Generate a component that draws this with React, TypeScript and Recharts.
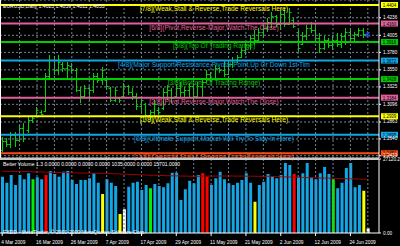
import React from 'react';
import {
  Bar,
  Cell,
  CartesianGrid,
  ComposedChart,
  Line,
  ReferenceDot,
  ReferenceLine,
  XAxis,
  YAxis,
} from 'recharts';

const dates = [
  '4 Mar 2009', '5 Mar 2009', '6 Mar 2009', '9 Mar 2009', '10 Mar 2009', '11 Mar 2009', '12 Mar 2009', '13 Mar 2009',
  '16 Mar 2009', '17 Mar 2009', '18 Mar 2009', '19 Mar 2009', '20 Mar 2009', '23 Mar 2009', '24 Mar 2009', '25 Mar 2009',
  '26 Mar 2009', '27 Mar 2009', '30 Mar 2009', '31 Mar 2009', '1 Apr 2009', '2 Apr 2009', '3 Apr 2009', '6 Apr 2009',
  '7 Apr 2009', '8 Apr 2009', '9 Apr 2009', '10 Apr 2009', '13 Apr 2009', '14 Apr 2009', '15 Apr 2009', '16 Apr 2009',
  '17 Apr 2009', '20 Apr 2009', '21 Apr 2009', '22 Apr 2009', '23 Apr 2009', '24 Apr 2009', '27 Apr 2009', '28 Apr 2009',
  '29 Apr 2009', '30 Apr 2009', '1 May 2009', '4 May 2009', '5 May 2009', '6 May 2009', '7 May 2009', '8 May 2009',
  '11 May 2009', '12 May 2009', '13 May 2009', '14 May 2009', '15 May 2009', '18 May 2009', '19 May 2009', '20 May 2009',
  '21 May 2009', '22 May 2009', '25 May 2009', '26 May 2009', '27 May 2009', '28 May 2009', '29 May 2009', '1 Jun 2009',
  '2 Jun 2009', '3 Jun 2009', '4 Jun 2009', '5 Jun 2009', '8 Jun 2009', '9 Jun 2009', '10 Jun 2009', '11 Jun 2009',
  '12 Jun 2009', '15 Jun 2009', '16 Jun 2009', '17 Jun 2009', '18 Jun 2009', '19 Jun 2009', '22 Jun 2009', '23 Jun 2009',
  '24 Jun 2009', '25 Jun 2009', '26 Jun 2009', '29 Jun 2009', '30 Jun 2009',
];

const highs = [
  1.2666, 1.2653, 1.2732, 1.2732, 1.2824, 1.2850, 1.2929, 1.2929, 1.3061, 1.3021,
  1.3509, 1.3746, 1.3733, 1.3746, 1.3654, 1.3654, 1.3640, 1.3575, 1.3324, 1.3351,
  1.3324, 1.3509, 1.3509, 1.3588, 1.3443, 1.3324, 1.3324, 1.3193, 1.3377, 1.3351,
  1.3311, 1.3245, 1.3179, 1.3114, 1.3021, 1.3153, 1.3061, 1.3311, 1.3351, 1.3311,
  1.3351, 1.3390, 1.3324, 1.3377, 1.3377, 1.3390, 1.3416, 1.3548, 1.3522, 1.3614,
  1.3588, 1.3680, 1.3654, 1.3719, 1.3746, 1.3838, 1.3904, 1.4009, 1.4075, 1.4101,
  1.4141, 1.4233, 1.4312, 1.4272, 1.4338, 1.4365, 1.4365, 1.4233, 1.4075, 1.4049,
  1.4141, 1.4180, 1.4128, 1.4035, 1.3996, 1.3970, 1.3996, 1.4035, 1.4035, 1.4101,
  1.4101, 1.4049, 1.4101, 1.4101, 1.4059,
];

const lows = [
  1.2468, 1.2534, 1.2521, 1.2534, 1.2600, 1.2600, 1.2719, 1.2850, 1.2929, 1.2956,
  1.2995, 1.3416, 1.3482, 1.3482, 1.3522, 1.3416, 1.3509, 1.3258, 1.3114, 1.3179,
  1.3153, 1.3245, 1.3377, 1.3351, 1.3285, 1.3127, 1.3127, 1.3114, 1.3193, 1.3219,
  1.3153, 1.3021, 1.2982, 1.2890, 1.2890, 1.2956, 1.2956, 1.3021, 1.3153, 1.3114,
  1.3179, 1.3193, 1.3193, 1.3193, 1.3153, 1.3193, 1.3193, 1.3377, 1.3390, 1.3416,
  1.3509, 1.3456, 1.3482, 1.3575, 1.3640, 1.3706, 1.3746, 1.3812, 1.3877, 1.3917,
  1.3970, 1.4049, 1.4101, 1.4114, 1.4075, 1.4114, 1.4141, 1.4101, 1.3785, 1.3877,
  1.3943, 1.4035, 1.3943, 1.3772, 1.3812, 1.3838, 1.3812, 1.3851, 1.3838, 1.3877,
  1.3917, 1.3904, 1.3983, 1.3970, 1.4011,
];

const opens = [
  1.2495, 1.2613, 1.2574, 1.2692, 1.2626, 1.2784, 1.2758, 1.2890, 1.2942, 1.2995,
  1.3008, 1.3469, 1.3680, 1.3548, 1.3627, 1.3575, 1.3601, 1.3548, 1.3285, 1.3206,
  1.3311, 1.3285, 1.3469, 1.3416, 1.3416, 1.3311, 1.3153, 1.3179, 1.3206, 1.3337,
  1.3258, 1.3206, 1.3074, 1.3100, 1.2956, 1.2995, 1.3021, 1.3048, 1.3258, 1.3285,
  1.3206, 1.3311, 1.3258, 1.3285, 1.3337, 1.3206, 1.3337, 1.3390, 1.3495, 1.3443,
  1.3575, 1.3548, 1.3495, 1.3627, 1.3680, 1.3719, 1.3812, 1.3877, 1.3970, 1.3943,
  1.4049, 1.4101, 1.4180, 1.4259, 1.4154, 1.4286, 1.4154, 1.4207, 1.4049, 1.3891,
  1.3996, 1.4101, 1.4075, 1.3970, 1.3838, 1.3943, 1.3877, 1.3943, 1.3891, 1.3996,
  1.4049, 1.3970, 1.4022, 1.4075, 1.4023,
];

const closes = [
  1.2613, 1.2574, 1.2692, 1.2626, 1.2784, 1.2653, 1.2890, 1.2916, 1.3021, 1.2969,
  1.3469, 1.3680, 1.3548, 1.3654, 1.3575, 1.3614, 1.3548, 1.3285, 1.3206, 1.3311,
  1.3285, 1.3469, 1.3416, 1.3548, 1.3337, 1.3153, 1.3285, 1.3153, 1.3337, 1.3258,
  1.3206, 1.3074, 1.3153, 1.2956, 1.2995, 1.3100, 1.2995, 1.3258, 1.3285, 1.3179,
  1.3311, 1.3258, 1.3285, 1.3337, 1.3206, 1.3337, 1.3390, 1.3495, 1.3443, 1.3575,
  1.3548, 1.3495, 1.3627, 1.3680, 1.3719, 1.3812, 1.3877, 1.3970, 1.3943, 1.4049,
  1.4101, 1.4180, 1.4259, 1.4154, 1.4286, 1.4154, 1.4312, 1.4128, 1.3838, 1.3996,
  1.4101, 1.4075, 1.3970, 1.3838, 1.3943, 1.3877, 1.3943, 1.3891, 1.3996, 1.4049,
  1.3970, 1.4022, 1.4075, 1.4022, 1.4053,
];

const volumes = [
  20630, 18440, 21260, 17590, 21260, 19680, 21880, 19680, 20410, 19680,
  21260, 22720, 21620, 20630, 22470, 22720, 19430, 17960, 19430, 19430,
  20050, 21880, 18440, 14290, 19680, 18440, 17230, 6960, 8690, 16970,
  18440, 18800, 15760, 17590, 16380, 17960, 17230, 16750, 18220, 22100,
  22100, 12100, 16020, 19170, 18220, 21260, 21880, 20630, 17590, 20050,
  22470, 19680, 18220, 17590, 18440, 19430, 21880, 18440, 11470, 17590,
  18800, 21620, 20890, 20050, 21260, 25660, 24920, 21620, 20630, 21880,
  25660, 20410, 19680, 21880, 24190, 21620, 19680, 16380, 18440, 23820,
  25660, 16750, 17590, 15500, 1720,
];

// b = normal, r = climax, y = low volume, g = churn, w = current
const volumeKinds = [
  'b', 'b', 'b', 'b', 'b', 'b', 'b', 'g', 'b', 'b',
  'r', 'b', 'b', 'b', 'b', 'b', 'b', 'b', 'b', 'b',
  'b', 'b', 'b', 'y', 'b', 'b', 'b', 'y', 'w', 'b',
  'b', 'b', 'b', 'b', 'g', 'b', 'b', 'b', 'b', 'b',
  'b', 'b', 'b', 'b', 'b', 'b', 'r', 'r', 'b', 'b',
  'b', 'b', 'b', 'b', 'b', 'b', 'b', 'b', 'y', 'b',
  'b', 'b', 'b', 'b', 'b', 'b', 'b', 'r', 'b', 'b',
  'b', 'b', 'b', 'b', 'b', 'b', 'g', 'b', 'b', 'b',
  'b', 'b', 'b', 'y', 'w',
];

const volumeMa = [
  22650, 22610, 22610, 22580, 22540, 22500, 22470, 22430, 22390, 22360,
  22320, 22280, 22250, 22210, 22140, 22100, 22060, 22030, 21990, 21990,
  21950, 21920, 21920, 21880, 21810, 21730, 21660, 21620, 21550, 21480,
  21440, 21370, 21330, 21260, 21180, 21150, 21110, 21040, 21000, 20960,
  20930, 20890, 20850, 20820, 20780, 20780, 20820, 20820, 20850, 20850,
  20890, 20890, 20890, 20890, 20850, 20850, 20820, 20820, 20820, 20780,
  20780, 20780, 20710, 20670, 20600, 20560, 20520, 20450, 20410, 20380,
  20300, 20270, 20230, 20160, 20120, 20080, 20050, 19970, 19940, 19900,
  19860, 19790, 19750, 19720, 19680,
];

const murreyLevels = [1.4404, 1.4160, 1.3916, 1.3672, 1.3428, 1.3184, 1.2939, 1.2695, 1.2451];
const murreyTexts = [
  '[7/8](Weak,Stall & Reverse,Trade Reversals Here)',
  '[6/8](Pivot,Reverse-Major,Watch The Close)',
  '[5/8](Top Of Trading Range)',
  '[4/8](Major Support/Resistance,Pivotal Point,Up Or Down 1st Tim',
  '[3/8](Bottom Of Trading Range)',
  '[2/8](Pivot,Reverse-Major,Watch The Close)',
  '[1/8](Weak,Stall & Reverse,Trade Reversals Here)',
  '[0/8](Ultimate Support,Market Will Try To Stay In Here)',
  '[-1/8](Oversold,Stall & Reverse,Trade Reversals Here)',
];
const priceTicks = [1.4236, 1.4005, 1.378, 1.355, 1.3325, 1.3096, 1.2863, 1.264, 1.2419];
const volumeTicks = [0, 27120.26];
const markerPrice = 1.4022;

const FONT = '"Liberation Sans", Arial, sans-serif';
const GRID = '#74859a';
const BAR_GREEN = '#00d400';
const murreyColors = ['#ffff00', '#e0609c', '#00cc00', '#12a6e6', '#00cc00', '#e0609c', '#ffff00', '#12a6e6', '#ff4a10'];
const kindColors: Record<string, string> = { b: '#12a6e6', r: '#ff0000', y: '#ffff00', g: '#00ee00', w: '#ffffff' };

const priceRows = dates.map((date, i) => ({
  date,
  open: opens[i],
  high: highs[i],
  low: lows[i],
  close: closes[i],
  range: [lows[i], highs[i]],
}));
const volumeRows = dates.map((date, i) => ({ date, vol: volumes[i], ma: volumeMa[i], kind: volumeKinds[i] }));
const gridDates = dates.filter((_, i) => i > 0 && i % 4 === 0);

function SqText({ x, y, text, size, fill, sx, anchor = 'start', weight = 'normal' }: any) {
  return (
    <text
      transform={`translate(${x},${y}) scale(${sx},1)`}
      fontSize={size}
      fill={fill}
      textAnchor={anchor}
      fontFamily={FONT}
      fontWeight={weight}
    >
      {text}
    </text>
  );
}

function OhlcShape(props: any) {
  const { x, y, width, height, payload } = props;
  if (x == null || !payload) return null;
  const top = Math.min(y, y + height);
  const h = Math.abs(height);
  const span = payload.high - payload.low || 1;
  const cx = Math.floor(x + width / 2) + 0.5;
  const yo = Math.round(top + ((payload.high - payload.open) / span) * h) + 0.5;
  const yc = Math.round(top + ((payload.high - payload.close) / span) * h) + 0.5;
  return (
    <g stroke={BAR_GREEN} strokeWidth={1}>
      <line x1={cx} y1={top} x2={cx} y2={top + h} />
      <line x1={cx - 2} y1={yo} x2={cx} y2={yo} />
      <line x1={cx} y1={yc} x2={cx + 2} y2={yc} />
    </g>
  );
}

function MurreyLabel(props: any) {
  const { viewBox, text, color, level } = props;
  if (!viewBox) return null;
  const { x, y, width } = viewBox;
  return (
    <g>
      <SqText x={x + 214} y={y + 6} text={text} size={7} fill={color} sx={0.95} anchor="middle" />
      <rect x={x + width + 2} y={y - 3} width={17} height={6} fill={color} />
      <SqText x={x + width + 10.5} y={y + 2} text={level.toFixed(4)} size={5.6} fill="#000" sx={0.8} anchor="middle" />
    </g>
  );
}

function PriceTick(props: any) {
  const { x, y, payload } = props;
  return <SqText x={x} y={y + 1.2} text={Number(payload.value).toFixed(4)} size={6} fill="#fff" sx={0.78} />;
}

function VolumeTick(props: any) {
  const { x, y, payload } = props;
  return <SqText x={x} y={y + 2} text={Number(payload.value).toFixed(2)} size={6} fill="#fff" sx={0.78} />;
}

function DateTick(props: any) {
  const { x, y, payload } = props;
  return <SqText x={x - 1} y={y + 5.5} text={payload.value} size={6} fill="#fff" sx={0.8} />;
}

function PriceChart() {
  return (
    <ComposedChart width={400} height={158} data={priceRows} margin={{ top: 0, right: 0, bottom: 0, left: 0 }} barCategoryGap={0}>
      <CartesianGrid vertical={false} stroke={GRID} strokeDasharray="2 2" />
      <XAxis dataKey="date" hide padding={{ left: 0, right: 9 }} />
      <YAxis
        orientation="right"
        width={21}
        domain={[1.2389, 1.447]}
        ticks={priceTicks}
        interval={0}
        allowDataOverflow
        axisLine={{ stroke: '#ffffff' }}
        tickLine={{ stroke: '#ffffff' }}
        tickSize={2}
        tick={<PriceTick />}
      />
      {gridDates.map((d) => (
        <ReferenceLine key={d} x={d} stroke={GRID} strokeDasharray="2 2" />
      ))}
      {murreyLevels.map((lv, i) => (
        <ReferenceLine
          key={lv}
          y={lv}
          stroke={murreyColors[i]}
          strokeWidth={2}
          label={<MurreyLabel text={murreyTexts[i]} color={murreyColors[i]} level={lv} />}
        />
      ))}
      <Bar dataKey="range" shape={<OhlcShape />} isAnimationActive={false} />
      <ReferenceDot
        x={dates[dates.length - 1]}
        y={markerPrice}
        r={0}
        shape={(p: any) => <SqText x={p.cx} y={p.cy + 3} text="A" size={8} fill="#2838ff" sx={1} anchor="middle" weight="bold" />}
      />
    </ComposedChart>
  );
}

function VolumeChart() {
  return (
    <ComposedChart width={400} height={87} data={volumeRows} margin={{ top: 0, right: 0, bottom: 0, left: 0 }}>
      <XAxis
        dataKey="date"
        height={13}
        padding={{ left: 0, right: 9 }}
        interval={7}
        axisLine={{ stroke: '#ffffff' }}
        tickLine={{ stroke: '#ffffff' }}
        tickSize={3}
        tick={<DateTick />}
      />
      <YAxis
        orientation="right"
        width={21}
        domain={[0, 27120.26]}
        ticks={volumeTicks}
        interval={0}
        allowDataOverflow
        axisLine={{ stroke: '#ffffff' }}
        tickLine={{ stroke: '#ffffff' }}
        tickSize={2}
        tick={<VolumeTick />}
      />
      {gridDates.map((d) => (
        <ReferenceLine key={d} x={d} stroke={GRID} strokeDasharray="2 2" />
      ))}
      <Bar dataKey="vol" barSize={3} isAnimationActive={false}>
        {volumeRows.map((r) => (
          <Cell key={r.date} fill={kindColors[r.kind]} />
        ))}
      </Bar>
      <Line dataKey="ma" type="linear" stroke="#a00000" strokeWidth={1} dot={false} isAnimationActive={false} />
    </ComposedChart>
  );
}

export default function App() {
  return (
    <div style={{ position: 'absolute', left: 0, top: 0, width: 400, height: 246, background: '#000', overflow: 'hidden' }}>
      <style>{'.recharts-surface { overflow: visible; }'}</style>
      <div style={{ position: 'absolute', left: 0, top: 0 }}>
        <PriceChart />
      </div>
      <div style={{ position: 'absolute', left: 0, top: 159 }}>
        <VolumeChart />
      </div>
      <svg width={400} height={246} style={{ position: 'absolute', left: 0, top: 0, pointerEvents: 'none' }}>
        <rect x={0} y={157.5} width={379} height={2.5} fill="#c8c8c8" />
        <line x1={0.5} y1={0} x2={0.5} y2={158} stroke="#ffffff" />
        <SqText x={3} y={7.5} text="EURUSD,Daily  1.4023 1.4059 1.4011 1.4053" size={6} fill="#fff" sx={0.85} />
        <SqText
          x={3}
          y={165.5}
          text="Better Volume 1.3 0.0000 0.0000 0.0000 0.0000 1035.0000 0.0000 15701.0000"
          size={6}
          fill="#fff"
          sx={0.84}
        />
        <SqText x={3} y={234} text="FXDD - MetaTrader, © 2001-2009 MetaQuotes Software Corp." size={6} fill="#fff" sx={0.86} />
      </svg>
    </div>
  );
}
